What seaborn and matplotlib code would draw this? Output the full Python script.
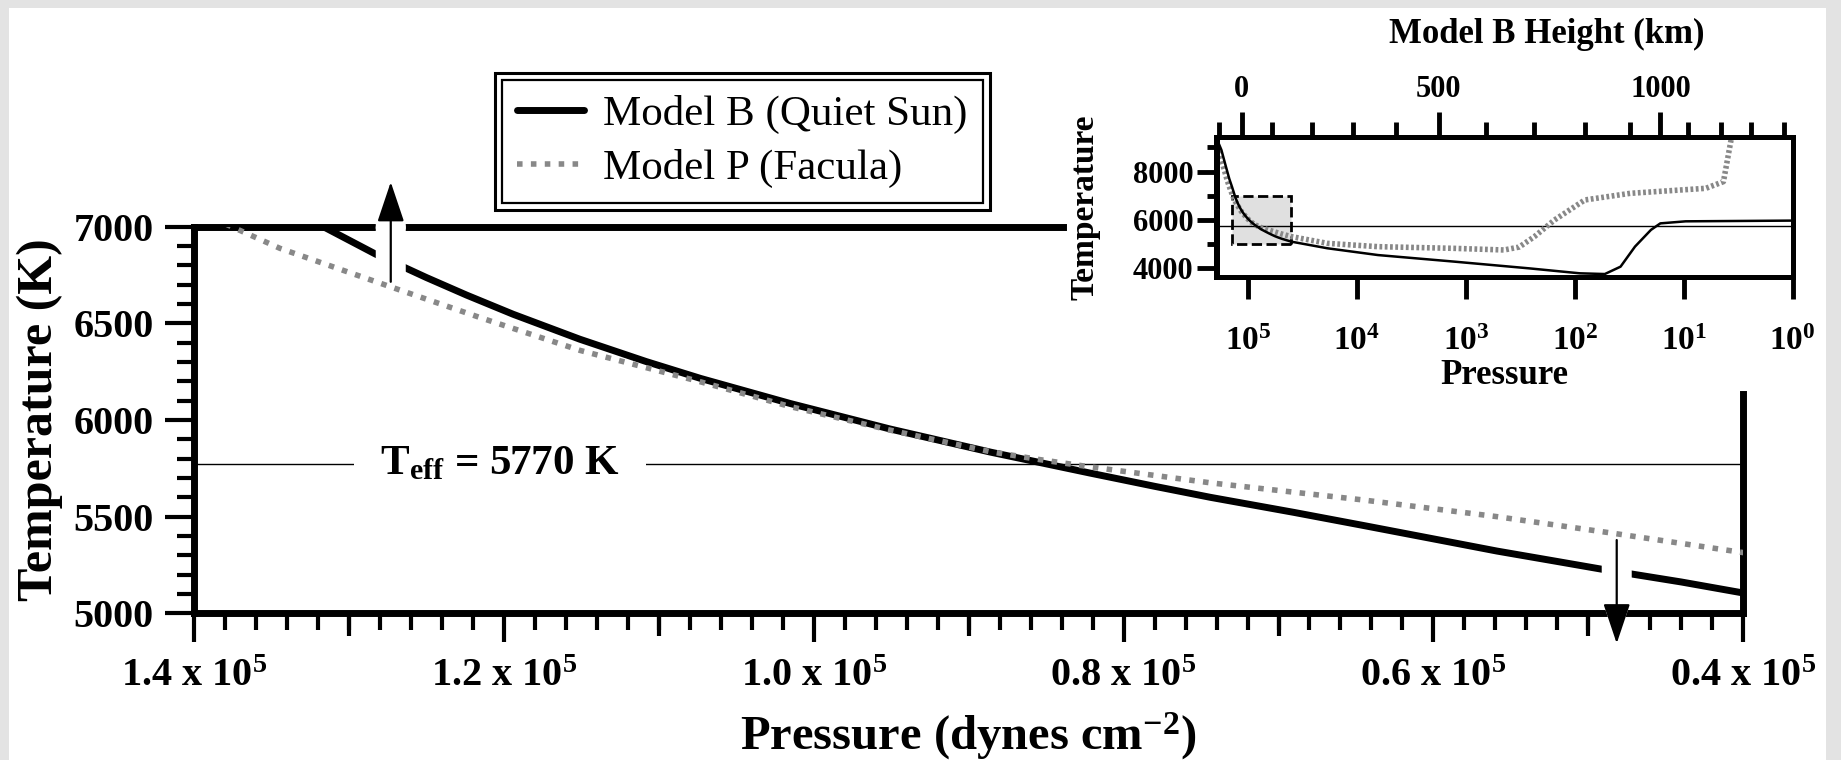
import numpy as np
import matplotlib
matplotlib.use("Agg")
import matplotlib.pyplot as plt
from matplotlib.patches import Rectangle
from matplotlib.ticker import (FixedLocator, MultipleLocator, NullLocator, NullFormatter,
                               FixedFormatter, LogFormatterMathtext)
import seaborn as sns

# ---------------- data ----------------
# Model B (Quiet Sun): pressure (dynes cm^-2) and temperature (K)
b_pressure = [194000, 175000, 160000, 148000, 140000, 131650, 128300, 125000, 122400, 119400,
              115100, 110800, 107300, 101500, 95100, 88600, 85400, 82200, 78000, 74400,
              69000, 64500, 60000, 55900, 52000, 49200, 44000, 40000,
              18600, 6400, 1290, 262, 90, 53, 38, 28, 20, 16.4, 9.6, 1.0]
b_temp = [9380, 8900, 8250, 7700, 7380, 7000, 6859, 6737, 6646, 6547,
          6418, 6302, 6215, 6085, 5954, 5834, 5780, 5726, 5657, 5600,
          5522, 5454, 5385, 5322, 5268, 5229, 5162, 5105,
          4830, 4550, 4280, 4000, 3795, 3765, 4070, 4900, 5590, 5860, 5945, 5975]

# Model P (Facula)
p_pressure = [194000, 170000, 155000, 145000, 137570, 134450, 127350, 121540, 115080, 107330,
              101500, 95100, 88600, 85400, 82200, 74400, 64500, 55900, 48400, 40000,
              18600, 6400, 1294, 446, 324, 235, 153.5, 81, 31, 6.27, 4.32, 3.68, 3.47]
p_temp = [9050, 8300, 7650, 7270, 7000, 6888, 6690, 6530, 6360, 6198,
          6069, 5948, 5836, 5795, 5758, 5675, 5586, 5500, 5414, 5314,
          5034, 4897, 4828, 4760, 4880, 5310, 6000, 6828, 7103, 7310, 7586, 9310, 9800]

# Model B height (km) vs log10 pressure (for the inset's top axis)
height_km = [-100, 0, 100, 200, 300, 400, 500, 600, 700, 800, 900, 1000, 1100, 1200, 1300, 1400]
height_logp = [5.264, 5.056, 4.778, 4.411, 4.038, 3.644, 3.250, 2.811, 2.371, 1.908,
               1.492, 1.214, 0.960, 0.659, 0.381, 0.081]

teff = 5770
labels = ["Model B (Quiet Sun)", "Model P (Facula)"]

x_major_ticks = [140000, 120000, 100000, 80000, 60000, 40000]
x_major_labels = ["1.4 x 10$^{5}$", "1.2 x 10$^{5}$", "1.0 x 10$^{5}$",
                  "0.8 x 10$^{5}$", "0.6 x 10$^{5}$", "0.4 x 10$^{5}$"]
x_mid_ticks = [130000, 110000, 90000, 70000, 50000]
inset_x_ticks = [1e5, 1e4, 1e3, 1e2, 1e1, 1e0]
inset_y_ticks = [4000, 6000, 8000]
inset_y_minor = [5000, 7000, 9000]
height_major = [0, 500, 1000]
height_major_labels = ["0", "500", "1000"]
height_minor = list(range(-100, 1401, 100))

# zoom window of the main panel (shown as the shaded box in the inset)
main_p_range = (140000, 40000)
main_t_range = (5000, 7000)

# arrows: (pressure, tail temperature, tip temperature)
arrows = [(127300, 6715, 7231), (48170, 5379, 4844)]

# ---------------- style ----------------
sns.set_theme(style="ticks")
plt.rcParams.update({
    "font.family": ["Liberation Serif", "DejaVu Serif"],
    "font.weight": "bold",
    "mathtext.fontset": "custom",
    "mathtext.rm": "Liberation Serif:bold",
    "mathtext.it": "Liberation Serif:bold:italic",
    "mathtext.bf": "Liberation Serif:bold",
    "mathtext.default": "bf",
    "axes.edgecolor": "black",
    "text.color": "black",
    "axes.labelcolor": "black",
    "xtick.color": "black",
    "ytick.color": "black",
})

W, H = 1841, 760
fig = plt.figure(figsize=(W / 100, H / 100), dpi=100, facecolor="#e3e3e3")
fig.add_artist(Rectangle((9 / W, 0), (1826 - 9) / W, (H - 8) / H, transform=fig.transFigure,
                         facecolor="white", edgecolor="none", zorder=-1))

# ---------------- main panel ----------------
ax = fig.add_axes([194 / W, (H - 613.3) / H, (1743.3 - 194) / W, 386.6 / H])
ax.set_facecolor("white")

sns.lineplot(x=b_pressure, y=b_temp, ax=ax, color="black", linewidth=5, sort=False,
             estimator=None, label=labels[0], zorder=3)
sns.lineplot(x=p_pressure, y=p_temp, ax=ax, color="#888888", linewidth=4, sort=False,
             estimator=None, label=labels[1], linestyle=(0, (1, 1.5)), zorder=6)
ax.axhline(teff, color="black", linewidth=1.0, zorder=1.5)

ax.set_xlim(*main_p_range)
ax.set_ylim(*main_t_range)

ax.xaxis.set_major_locator(FixedLocator(x_major_ticks))
ax.xaxis.set_major_formatter(FixedFormatter(x_major_labels))
ax.xaxis.set_minor_locator(MultipleLocator(2000))
ax.yaxis.set_major_locator(MultipleLocator(500))
ax.yaxis.set_minor_locator(MultipleLocator(100))
ax.tick_params(which="both", direction="out", bottom=True, left=True, top=False, right=False)
ax.tick_params(which="major", length=21, width=3, labelsize=29)
ax.tick_params(which="minor", length=12, width=3)
ax.tick_params(axis="x", which="major", pad=11)
ax.tick_params(axis="y", which="major", pad=8)

secm = ax.secondary_xaxis("bottom")
secm.set_xticks(x_mid_ticks)
secm.tick_params(length=16.5, width=3, labelbottom=False, direction="out")
secm.spines["bottom"].set_visible(False)

for s in ax.spines.values():
    s.set_linewidth(5)
ax.spines["top"].set_bounds(140000, 83900)
ax.spines["right"].set_bounds(5000, 6137)

ax.set_xlabel("Pressure (dynes cm$^{-2}$)", fontsize=35, fontweight="bold")
ax.xaxis.set_label_coords(0.5, -0.317)
ax.xaxis.label.set_va("center")
ax.set_ylabel("Temperature (K)", fontsize=36, fontweight="bold")
ax.yaxis.set_label_coords(-0.0997, 0.5)
ax.yaxis.label.set_va("center")

ax.text(120250, teff, r"$\mathbf{T_{eff}}$ = 5770 K", ha="center", va="center", fontsize=31,
        bbox=dict(boxstyle="square,pad=0.6", facecolor="white", edgecolor="none"), zorder=4)

head_style = "-|>,head_length=1.25,head_width=0.42"
for (px, t_tail, t_tip) in arrows:
    layers = [
        dict(arrowstyle="-", color="white", lw=21.6, shrinkA=0, shrinkB=25,
             mutation_scale=20, capstyle="butt", zorder=4.8),
        dict(arrowstyle=head_style, color="white", lw=5, shrinkA=0, shrinkB=0,
             mutation_scale=20, joinstyle="round", zorder=4.9),
        dict(arrowstyle=head_style, color="black", lw=1.6, shrinkA=0, shrinkB=0,
             mutation_scale=20, zorder=5),
    ]
    for props in layers:
        z = props.pop("zorder")
        ann = ax.annotate("", xy=(px, t_tip), xytext=(px, t_tail), arrowprops=props,
                          annotation_clip=False, zorder=z)
        ann.arrow_patch.set_clip_on(False)

handles, hl = ax.get_legend_handles_labels()
leg = ax.legend(handles[:2], hl[:2], loc="upper left",
                bbox_to_anchor=(502 / W, 1 - 80 / H), bbox_transform=fig.transFigure,
                borderaxespad=0, frameon=True, fancybox=False, edgecolor="black", framealpha=1,
                prop={"family": "Liberation Serif", "weight": "normal", "size": 31},
                handlelength=1.55, handletextpad=0.45, borderpad=0.35, labelspacing=0.33)
leg.get_frame().set_linewidth(1.6)
leg.set_zorder(10)

# ---------------- inset ----------------
axi = fig.add_axes([1216.5 / W, (H - 277.3) / H, 576.2 / W, 140 / H])
axi.set_facecolor("white")
axi.set_xscale("log")
axi.add_patch(Rectangle((main_p_range[1], main_t_range[0]), main_p_range[0] - main_p_range[1],
                        main_t_range[1] - main_t_range[0], facecolor="#e0e0e0", edgecolor="black",
                        linestyle="--", linewidth=2, zorder=1))
axi.axhline(teff, color="black", linewidth=1.0, zorder=1.5)
sns.lineplot(x=p_pressure, y=p_temp, ax=axi, color="#888888", linewidth=4, sort=False,
             estimator=None, linestyle=(0, (0.5, 0.45)), zorder=2, legend=False)
sns.lineplot(x=b_pressure, y=b_temp, ax=axi, color="black", linewidth=1.8, sort=False,
             estimator=None, zorder=3, legend=False)
if axi.get_legend() is not None:
    axi.get_legend().remove()
inset_xlim = (1.94e5, 1.0)
axi.set_xlim(*inset_xlim)
axi.set_ylim(3630, 9420)

axi.xaxis.set_major_locator(FixedLocator(inset_x_ticks))
axi.xaxis.set_major_formatter(LogFormatterMathtext())
axi.xaxis.set_minor_locator(NullLocator())
axi.yaxis.set_major_locator(FixedLocator(inset_y_ticks))
axi.yaxis.set_minor_locator(FixedLocator(inset_y_minor))
axi.tick_params(which="both", direction="out", bottom=True, left=True, top=False, right=False)
axi.tick_params(axis="x", which="major", length=16, width=3.5, labelsize=24, pad=19)
axi.tick_params(axis="y", which="major", length=14.5, width=3.5, labelsize=22, pad=2)
axi.tick_params(axis="y", which="minor", length=7, width=3.5)
for s in axi.spines.values():
    s.set_linewidth(3.6)

axi.set_xlabel("Pressure", fontsize=25, fontweight="bold")
axi.xaxis.set_label_coords(0.5, -0.70)
axi.xaxis.label.set_va("center")
axi.set_ylabel("Temperature", fontsize=24, fontweight="bold")
axi.yaxis.set_label_coords(-0.228, 0.5)
axi.yaxis.label.set_va("center")

# top axis: Model B height, placed at the pressures given by the height table
def h_to_p(h):
    return 10 ** np.interp(np.asarray(h, dtype=float), height_km, height_logp)


top = axi.twiny()
top.set_facecolor("none")
top.set_xscale("log")
top.set_xlim(*inset_xlim)
top.xaxis.set_major_locator(FixedLocator(h_to_p(height_major)))
top.xaxis.set_major_formatter(FixedFormatter(height_major_labels))
top.xaxis.set_minor_locator(FixedLocator(h_to_p(height_minor)))
top.xaxis.set_minor_formatter(NullFormatter())
top.tick_params(axis="x", which="both", direction="out", top=True, bottom=False,
                labeltop=True, labelbottom=False)
top.tick_params(axis="x", which="major", length=18, width=3.5, labelsize=22, pad=6)
top.tick_params(axis="x", which="minor", length=11, width=3.5)
for s in top.spines.values():
    s.set_linewidth(3.6)
top.set_xlabel("Model B Height (km)", fontsize=25, fontweight="bold")
top.xaxis.set_label_coords(0.5736, 1.731)
top.xaxis.label.set_va("center")

# double border around legend
fig.canvas.draw()
bb = leg.get_frame().get_window_extent(fig.canvas.get_renderer())
pad = 7
(x0, y0), (x1, y1) = fig.transFigure.inverted().transform([[bb.x0 - pad, bb.y0 - pad],
                                                          [bb.x1 + pad, bb.y1 + pad]])
fig.add_artist(Rectangle((x0, y0), x1 - x0, y1 - y0, transform=fig.transFigure,
                         fill=False, edgecolor="black", linewidth=2.2, zorder=20))

fig.savefig("out.png", dpi=100, facecolor=fig.get_facecolor())
